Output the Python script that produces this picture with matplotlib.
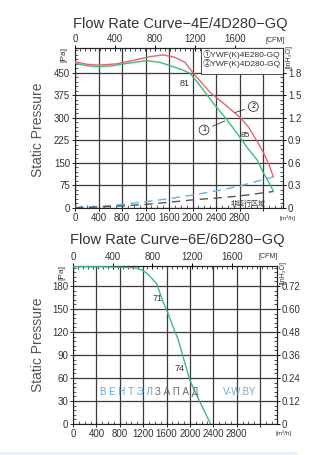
import matplotlib
matplotlib.use("Agg")
import matplotlib.pyplot as plt
from matplotlib.ticker import MultipleLocator
from matplotlib.patches import Rectangle

plt.rcParams['font.family'] = ['Liberation Sans', 'Noto Sans CJK SC', 'DejaVu Sans']

W, H = 329, 455

# ---- upper chart: 4E / 4D 280 ----
q_4e = [0, 200, 370, 600, 900, 1220, 1450, 1650, 1800, 1957, 2150, 2354,
        2582, 2808, 2950, 3100, 3205, 3300, 3376]
p_4e = [482, 474, 471, 473, 482, 491, 485, 472, 462, 449, 402, 349,
        295, 235, 196, 160, 118, 85, 57]
q_4d = [0, 200, 400, 700, 1000, 1300, 1503, 1700, 1872, 2013, 2300, 2550,
        2820, 2950, 3092, 3205, 3300, 3376]
p_4d = [487, 479, 476, 480, 492, 505, 510, 502, 485, 449, 385, 345,
        300, 270, 225, 185, 145, 104]
q_sys = [0, 400, 800, 1200, 1600, 2000, 2400, 2800, 3376]
p_sys_hi = [2, 5, 12, 21, 31, 43, 57, 73, 104]
p_sys_lo = [1, 3, 7, 12, 19, 27, 33, 40, 55]

# ---- lower chart: 6E / 6D 280 ----
q_6e = [0, 500, 975, 1100, 1200, 1300, 1430, 1543, 1601, 1700, 1800,
        1900, 2000, 2100, 2170, 2260, 2353]
p_6e = [205, 205, 204, 203, 200, 194, 183, 159, 149, 129, 110,
        83, 57, 40, 29, 15, 0]

m3h_ticks = [0, 400, 800, 1200, 1600, 2000, 2400, 2800, 3200]
m3h_labels = ['0', '400', '800', '1200', '1600', '2000', '2400', '2800', '']
cfm_ticks = [0, 400, 800, 1200, 1600]

GREEN = '#3dbb80'
RED = '#e8636e'
BLUE = '#5ab8e2'
GRAY_D = '#555555'
TXT = '#333333'
GRID = '#3a3a3a'


def px_axes(fig, left, top, right, bottom):
    return fig.add_axes([left / W, 1 - bottom / H, (right - left) / W, (bottom - top) / H])


def ftext(fig, x, y, s, **kw):
    fig.text(x / W, 1 - y / H, s, **kw)


def style_axes(ax, xmax, ymax, yticks, ystep_minor, rticks, rfmt, rminor):
    ax.set_xlim(0, xmax)
    ax.set_ylim(0, ymax)
    ax.set_xticks(m3h_ticks)
    ax.set_xticklabels(m3h_labels)
    ax.xaxis.set_minor_locator(MultipleLocator(100))
    ax.set_yticks(yticks)
    ax.yaxis.set_minor_locator(MultipleLocator(ystep_minor))
    ax.grid(True, which='major', color=GRID, lw=0.9)
    ax.tick_params(which='major', direction='inout', length=4, width=0.7,
                   labelsize=7, colors='#222', labelcolor=TXT, pad=1.5)
    ax.tick_params(which='minor', direction='in', length=2, width=0.5, colors='#222')
    for s in ax.spines.values():
        s.set_linewidth(0.8)
        s.set_color('#222')

    top = ax.secondary_xaxis('top', functions=(lambda x: x / 1.699, lambda x: x * 1.699))
    top.set_xticks(cfm_ticks)
    top.set_xticklabels([str(t) for t in cfm_ticks])
    top.xaxis.set_minor_locator(MultipleLocator(50))
    top.tick_params(which='major', direction='inout', length=4, width=0.7,
                    labelsize=7, labelcolor=TXT, pad=1)
    top.tick_params(which='minor', direction='in', length=2, width=0.5)

    right = ax.secondary_yaxis('right', functions=(lambda p: p / 250.0, lambda v: v * 250.0))
    right.set_yticks(rticks)
    right.set_yticklabels([rfmt(v) for v in rticks])
    right.yaxis.set_minor_locator(MultipleLocator(rminor))
    right.tick_params(which='major', direction='inout', length=4, width=0.7,
                      labelsize=7, labelcolor=TXT, pad=1.5)
    right.tick_params(which='minor', direction='in', length=2, width=0.5)


fig = plt.figure(figsize=(W / 100, H / 100), dpi=100)
fig.patch.set_facecolor('white')

# ===== upper chart =====
ax1 = px_axes(fig, 75, 48, 283, 208)
style_axes(ax1, 3540, 533, [0, 75, 150, 225, 300, 375, 450], 15,
           [0, 0.3, 0.6, 0.9, 1.2, 1.5, 1.8],
           lambda v: '0' if v == 0 else '%.1f' % v, 0.06)

ax1.plot(q_sys, p_sys_hi, color=BLUE, lw=1.0, ls=(0, (6, 4)), zorder=3)
ax1.plot(q_sys, p_sys_lo, color=GRAY_D, lw=1.0, ls=(0, (6, 4)), zorder=3)
ax1.plot(q_4d, p_4d, color=RED, lw=1.0, zorder=4)
ax1.plot(q_4e, p_4e, color=GREEN, lw=1.0, zorder=4)

ax1.text(1860, 415, '81', fontsize=6.5, color=TXT, ha='center', va='center', zorder=5)
ax1.text(2900, 240, '85', fontsize=6, color=TXT, ha='center', va='center', zorder=5)
ax1.text(2950, 14, '非运行区域', fontsize=5, color=TXT, ha='center', va='center', zorder=5)

circ = dict(boxstyle='circle,pad=0.2', fc='white', ec='#333', lw=0.6)
ax1.annotate('1', xy=(2553, 290), xytext=(2196, 260), fontsize=5, ha='center', va='center',
             bbox=circ, arrowprops=dict(arrowstyle='-', lw=0.6, color='#333', shrinkA=3, shrinkB=0),
             zorder=6)
ax1.annotate('2', xy=(2723, 318), xytext=(3035, 338), fontsize=5, ha='center', va='center',
             bbox=circ, arrowprops=dict(arrowstyle='-', lw=0.6, color='#333', shrinkA=3, shrinkB=0),
             zorder=6)

# legend box
ax1.add_patch(Rectangle((2150, 447), 1390, 86, facecolor='white', edgecolor='#333',
                        lw=0.6, zorder=5))
ax1.text(2180, 510, '①YWF(K)4E280-GQ', fontsize=6, color=TXT, va='center', zorder=6)
ax1.text(2180, 482, '②YWF(K)4D280-GQ', fontsize=6, color=TXT, va='center', zorder=6)

ftext(fig, 180, 24, 'Flow Rate Curve\u22124E/4D280\u2212GQ', fontsize=10.5, color='#333',
      ha='center', va='center')
ftext(fig, 38, 130, 'Static Pressure', fontsize=10, color='#555', rotation=90,
      ha='center', va='center')
ftext(fig, 64, 55, '[Pa]', fontsize=6, color=TXT, rotation=90, ha='center', va='center')
ftext(fig, 289, 56, '[inH\u2082O]', fontsize=5, color=TXT, rotation=90, ha='center', va='center')
ftext(fig, 275, 40, '[CFM]', fontsize=5, color=TXT, ha='center', va='center')
ftext(fig, 287, 218, '[m\u00b3/h]', fontsize=4.5, color=TXT, ha='center', va='center')

# ===== lower chart =====
ax2 = px_axes(fig, 73, 266, 277, 424)
style_axes(ax2, 3490, 206, [0, 30, 60, 90, 120, 150, 180], 6,
           [0, 0.12, 0.24, 0.36, 0.48, 0.60, 0.72],
           lambda v: '0' if v == 0 else '%.2f' % v, 0.024)

ax2.plot(q_6e, p_6e, color=GREEN, lw=1.0, zorder=4)
ax2.text(1440, 164, '71', fontsize=6.5, color=TXT, ha='center', va='center', zorder=5)
ax2.text(1830, 73, '74', fontsize=6.5, color=TXT, ha='center', va='center', zorder=5)

ftext(fig, 177, 240, 'Flow Rate Curve\u22126E/6D280\u2212GQ', fontsize=10.5, color='#333',
      ha='center', va='center')
ftext(fig, 38, 345, 'Static Pressure', fontsize=10, color='#555', rotation=90,
      ha='center', va='center')
ftext(fig, 62, 272, '[Pa]', fontsize=6, color=TXT, rotation=90, ha='center', va='center')
ftext(fig, 283, 272, '[inH\u2082O]', fontsize=5, color=TXT, rotation=90, ha='center', va='center')
ftext(fig, 268, 257, '[CFM]', fontsize=5, color=TXT, ha='center', va='center')
ftext(fig, 283, 433, '[m\u00b3/h]', fontsize=4.5, color=TXT, ha='center', va='center')

# watermark
ftext(fig, 100, 392, 'В Е Н Т Э Л', fontsize=7, color='#5aa8e4', ha='left', va='center')
ftext(fig, 155, 392, 'З А П А Д', fontsize=7, color='#666666', ha='left', va='center')
ftext(fig, 240, 392, 'V-W.BY', fontsize=7, color='#7fa6cc', ha='center', va='center')

fig.patches.append(Rectangle((0, 0), 298 / W, 3 / H, transform=fig.transFigure,
                             facecolor='#e6f1fb', edgecolor='none'))

fig.savefig('out.png', dpi=100)
